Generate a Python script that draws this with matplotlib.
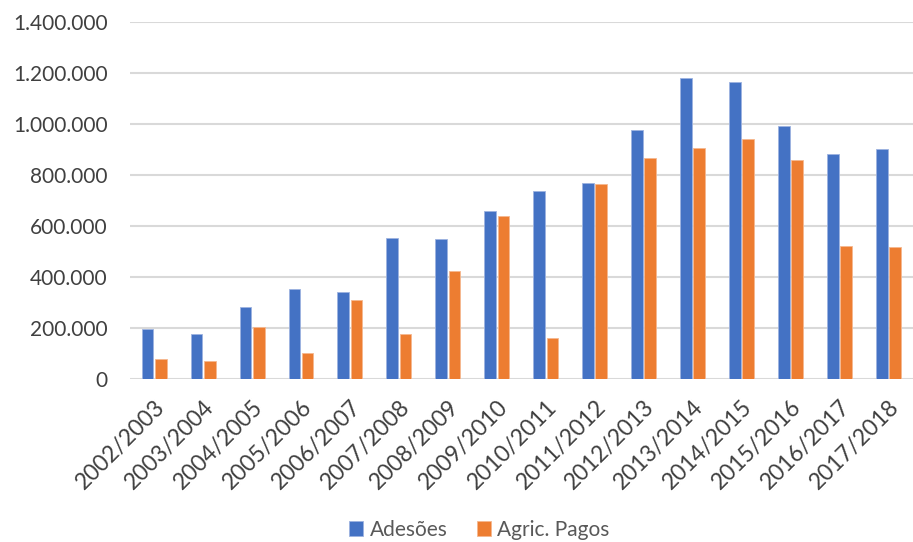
import matplotlib.pyplot as plt
import numpy as np
from matplotlib.ticker import FuncFormatter

# safras e valores (número de agricultores)
safras = ["2002/2003", "2003/2004", "2004/2005", "2005/2006", "2006/2007",
          "2007/2008", "2008/2009", "2009/2010", "2010/2011", "2011/2012",
          "2012/2013", "2013/2014", "2014/2015", "2015/2016", "2016/2017",
          "2017/2018"]
adesoes = [197000, 178000, 282000, 353000, 344000, 554000, 549000, 660000,
           736000, 770000, 978000, 1179000, 1164000, 992000, 881000, 901000]
agric_pagos = [81000, 71000, 207000, 102000, 312000, 178000, 424000, 639000,
               162000, 766000, 866000, 907000, 942000, 860000, 524000, 519000]

plt.rcParams['font.family'] = ['Lato', 'DejaVu Sans']

fig = plt.figure(figsize=(9.13, 5.42), dpi=100)
ax = fig.add_axes([0.142, 0.30, 0.858, 0.66])

x = np.arange(len(safras))
w = 0.24
ax.bar(x - 0.135, adesoes, w, color='#4472c4', label='Adesões',
       edgecolor='#9db3e0', linewidth=0.6, zorder=3)
ax.bar(x + 0.135, agric_pagos, w, color='#ed7d31', label='Agric. Pagos',
       edgecolor='#f5b88f', linewidth=0.6, zorder=3)

ax.set_xlim(-0.5, len(safras) - 0.5)
ax.set_ylim(0, 1400000)
ax.set_yticks(np.arange(0, 1400001, 200000))
ax.yaxis.set_major_formatter(
    FuncFormatter(lambda v, p: f"{int(v):,}".replace(",", ".")))
ax.grid(axis='y', color='#d9d9d9', linewidth=1.5, zorder=0)
for s in ['top', 'right', 'left', 'bottom']:
    ax.spines[s].set_visible(False)
ax.tick_params(axis='both', length=0, colors='#404040')
ax.tick_params(axis='y', labelsize=15, pad=16)

ax.set_xticks(x)
ax.set_xticklabels(safras, rotation=45, ha='right', rotation_mode='anchor')
ax.tick_params(axis='x', labelsize=16.5, pad=12)

fig.legend(loc='center', bbox_to_anchor=(0.525, 0.022), ncol=2,
           frameon=False, fontsize=15, handlelength=0.7, handleheight=0.7,
           handletextpad=0.3, columnspacing=1.4, labelcolor='#595959')

fig.savefig('out.png', dpi=100)
